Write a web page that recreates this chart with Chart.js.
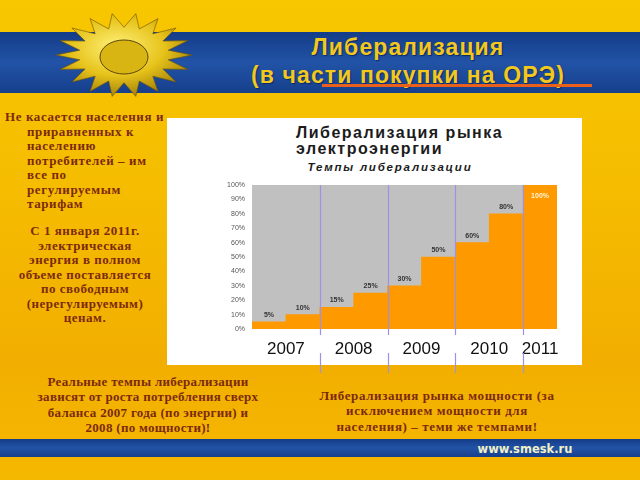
<!DOCTYPE html>
<html lang="ru">
<head>
<meta charset="utf-8">
<script src="https://cdn.jsdelivr.net/npm/chart.js@4.4.1/dist/chart.umd.min.js"></script>
<style>
  html, body { margin: 0; padding: 0; }
  body {
    width: 640px; height: 480px; overflow: hidden; position: relative;
    background: linear-gradient(180deg, #f7c700 0%, #f5bc00 40%, #f2ae00 75%, #f5b800 100%);
    font-family: "Liberation Serif", "DejaVu Serif", serif;
  }
  .band {
    position: absolute; left: 0; width: 640px;
    background: linear-gradient(180deg, #143c88 0%, #2253a6 50%, #163f8c 100%);
  }
  .slide-title {
    position: absolute; left: 208px; width: 400px; top: 33px;
    text-align: center; color: #f3c81e;
    font: bold 23px "Liberation Sans", Arial, sans-serif; line-height: 28px; letter-spacing: 1.1px;
    text-shadow: 1px 1px 1px #0b2a60;
  }
  .underline { position: absolute; left: 322px; top: 84px; width: 270px; height: 3px; background: #e8601c; }
  .note {
    position: absolute; color: #7c2a0e; font-weight: bold; font-size: 13px; line-height: 14.5px;
  }
  .panel { position: absolute; left: 167px; top: 118px; width: 415px; height: 247px; background: #fff; }
  .chart-title {
    position: absolute; left: 296px; top: 125px; color: #1c1c1c;
    font: bold 16px "Liberation Sans", Arial, sans-serif; line-height: 15.5px; letter-spacing: 1.5px;
  }
  .chart-sub {
    position: absolute; left: 290px; width: 200px; top: 161px; text-align: center; color: #1c1c1c;
    font: italic bold 11.5px "Liberation Sans", Arial, sans-serif; letter-spacing: 1.8px;
  }
  #wrap { position: absolute; left: 167px; top: 118px; width: 415px; height: 256px; }
  .site {
    position: absolute; left: 470px; width: 110px; top: 442px; text-align: center; color: #eef0c8;
    font: bold 11.5px "DejaVu Sans", Verdana, sans-serif;
  }
</style>
</head>
<body>
<div class="band" style="top:32px;height:61px;"></div>
<div class="band" style="top:439px;height:18px;"></div>
<svg id="logo" width="200" height="110" style="position:absolute;left:40px;top:5px;">
  <defs>
    <radialGradient id="gold" cx="0.45" cy="0.4" r="0.7">
      <stop offset="0" stop-color="#fff27a"/>
      <stop offset="0.5" stop-color="#e6c21a"/>
      <stop offset="1" stop-color="#8c6a05"/>
    </radialGradient>
  </defs>
  <polygon id="sun" fill="url(#gold)" stroke="#6b5004" stroke-width="0.6"/>
  <ellipse cx="84" cy="52" rx="24" ry="17" fill="#d9b514" stroke="#5c4603" stroke-width="1"/>
</svg>
<div class="slide-title">Либерализация<br>(в части покупки на ОРЭ)</div>
<div class="underline"></div>

<div class="note" style="left:5px;top:110px;width:165px;padding-left:22px;text-indent:-22px;letter-spacing:0.6px;">
  Не касается населения и<br>приравненных к<br>населению<br>потребителей – им<br>все по<br>регулируемым<br>тарифам
</div>
<div class="note" style="left:0;top:224px;width:170px;text-align:center;letter-spacing:0.5px;">
  С 1 января 2011г.<br>электрическая<br>энергия в полном<br>объеме поставляется<br>по свободным<br>(нерегулируемым)<br>ценам.
</div>
<div class="note" style="left:8px;top:374px;width:280px;text-align:center;line-height:15.3px;letter-spacing:0.3px;">
  Реальные темпы либерализации<br>зависят от роста потребления сверх<br>баланса 2007 года (по энергии) и<br>2008 (по мощности)!
</div>
<div class="note" style="left:287px;top:388px;width:300px;text-align:center;line-height:15.3px;letter-spacing:0.6px;">
  Либерализация рынка мощности (за<br>исключением мощности для<br>населения) – теми же темпами!
</div>

<div class="panel"></div>
<div class="chart-title">Либерализация рынка<br>электроэнергии</div>
<div class="chart-sub">Темпы либерализации</div>
<div id="wrap"><canvas id="chart"></canvas></div>
<div class="site">www.smesk.ru</div>

<script>
"use strict";

const years = ["2007", "2008", "2009", "2010", "2011"];
const barsPerYear = [2, 2, 2, 2, 1];
const shares = [5, 10, 15, 25, 30, 50, 60, 80, 100];
const shareMax = 100;
const shareStep = 10;

// one category per stage, named after its year
const stages = [];
const yearCenters = [];
const yearBounds = [];
let start = 0;
for (let i = 0; i < years.length; i++) {
  for (let j = 0; j < barsPerYear[i]; j++) {
    stages.push(years[i] + " (" + (j + 1) + ")");
  }
  yearCenters.push(start + (barsPerYear[i] - 1) / 2);
  start += barsPerYear[i];
  if (i < years.length - 1) {
    yearBounds.push(start - 0.5);
  }
}

// decorative sun emblem
function drawLogo() {
  const pts = [];
  const rays = 18;
  for (let i = 0; i < rays * 2; i++) {
    const a = (Math.PI * i) / rays;
    const r = i % 2 === 0 ? 1 : 0.66;
    pts.push((84 + Math.cos(a) * 68 * r).toFixed(1) + "," + (50 + Math.sin(a) * 42 * r).toFixed(1));
  }
  document.getElementById("sun").setAttribute("points", pts.join(" "));
}
drawLogo();

const plotBackground = {
  id: "plotBackground",
  beforeDraw(chart) {
    const { ctx, chartArea } = chart;
    ctx.save();
    ctx.fillStyle = "#c0c0c0";
    ctx.fillRect(chartArea.left, chartArea.top, chartArea.width, chartArea.height);
    ctx.restore();
  },
};

const yearLines = {
  id: "yearLines",
  afterDatasetsDraw(chart) {
    const { ctx, chartArea } = chart;
    const scale = chart.scales.yr;
    ctx.save();
    ctx.strokeStyle = "#9d93e6";
    ctx.lineWidth = 1.2;
    for (let i = 0; i < yearBounds.length; i++) {
      const x = Math.round(scale.getPixelForValue(yearBounds[i])) + 0.5;
      ctx.beginPath();
      ctx.moveTo(x, chartArea.top);
      ctx.lineTo(x, chartArea.bottom + 6);
      ctx.moveTo(x, chartArea.bottom + 24);
      ctx.lineTo(x, chart.height - 1);
      ctx.stroke();
    }
    ctx.restore();
  },
};

const barLabels = {
  id: "barLabels",
  afterDatasetsDraw(chart) {
    const { ctx, chartArea } = chart;
    const meta = chart.getDatasetMeta(0);
    ctx.save();
    ctx.font = "bold 7px 'Liberation Sans', Arial, sans-serif";
    ctx.textAlign = "center";
    ctx.textBaseline = "middle";
    meta.data.forEach((bar, i) => {
      const text = shares[i] + "%";
      if (bar.y - 8 < chartArea.top + 4) {
        ctx.fillStyle = "#fff3d6";
        ctx.fillText(text, bar.x, bar.y + 11);
      } else {
        ctx.fillStyle = "#333333";
        ctx.fillText(text, bar.x, bar.y - 7);
      }
    });
    ctx.restore();
  },
};

const chart = new Chart(document.getElementById("chart"), {
  type: "bar",
  data: {
    labels: stages,
    datasets: [
      {
        label: "Темпы либерализации",
        data: shares,
        backgroundColor: "#ff9900",
        borderWidth: 0,
        barPercentage: 1,
        categoryPercentage: 1,
      },
    ],
  },
  options: {
    responsive: true,
    maintainAspectRatio: false,
    animation: false,
    layout: { padding: { top: 67, right: 25, left: 0, bottom: 0 } },
    plugins: {
      legend: { display: false },
      title: { display: false },
      tooltip: { enabled: false },
    },
    scales: {
      x: { display: false },
      yr: {
        type: "linear",
        position: "bottom",
        offset: false,
        min: -0.5,
        max: shares.length - 0.5,
        grid: { display: false, drawTicks: false, offset: false },
        border: { display: false },
        afterBuildTicks(scale) {
          scale.ticks = yearCenters.map((v) => ({ value: v }));
        },
        afterFit(scale) {
          scale.height = 45;
        },
        ticks: {
          padding: 10,
          autoSkip: false,
          maxRotation: 0,
          color: "#111111",
          font: { family: "'Liberation Sans', Arial, sans-serif", size: 17 },
          callback(value, index) {
            return years[index];
          },
        },
      },
      y: {
        min: 0,
        max: shareMax,
        grid: { display: false, drawTicks: false },
        border: { display: false },
        afterFit(scale) {
          scale.width = 85;
        },
        ticks: {
          stepSize: shareStep,
          padding: 7,
          color: "#555555",
          font: { family: "'Liberation Sans', Arial, sans-serif", size: 7 },
          callback(value) {
            return value + "%";
          },
        },
      },
    },
  },
  plugins: [plotBackground, yearLines, barLabels],
});
</script>
</body>
</html>
